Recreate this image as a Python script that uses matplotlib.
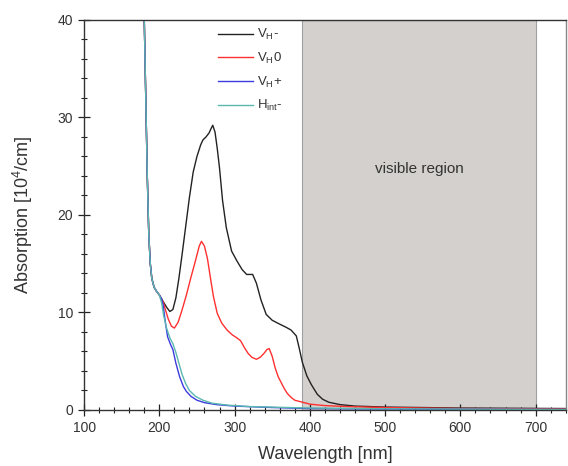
import matplotlib
matplotlib.use("Agg")
import matplotlib.pyplot as plt
from matplotlib.ticker import MultipleLocator

plt.rcParams['font.family'] = ['Liberation Sans', 'DejaVu Sans']
plt.rcParams['mathtext.fontset'] = 'custom'
plt.rcParams['mathtext.rm'] = 'Liberation Sans'
plt.rcParams['mathtext.it'] = 'Liberation Sans:italic'

# ---- data ----
vh_minus_x = [178, 180, 182, 184, 186, 188, 190, 193, 196, 200, 203, 206, 210, 214, 218, 222, 226, 230, 235, 240,
              245, 250, 255, 258, 262, 266, 269, 271, 274, 277, 280, 284, 289, 296, 303, 310, 316, 320, 324, 329,
              335, 342, 350, 360, 368, 375, 382, 386, 390, 396, 402, 410, 417, 425, 440, 460, 500, 600, 740]
vh_minus_y = [45, 40, 32, 24, 18, 15, 13.5, 12.6, 12.2, 11.8, 11.4, 11.0, 10.5, 10.1, 10.3, 11.5, 13.5, 15.8, 18.8, 21.8,
              24.4, 26.0, 27.2, 27.7, 28.0, 28.4, 28.9, 29.2, 28.5, 26.8, 24.8, 21.5, 18.7, 16.3, 15.3, 14.4, 13.9, 13.9, 13.9, 13.0,
              11.3, 9.8, 9.2, 8.8, 8.5, 8.2, 7.6, 6.3, 4.9, 3.5, 2.6, 1.6, 1.1, 0.8, 0.55, 0.4, 0.3, 0.2, 0.15]

vh0_x = [178, 180, 182, 184, 186, 188, 190, 193, 196, 200, 203, 205, 208, 212, 216, 220, 225, 230, 236, 242,
         248, 253, 256, 260, 264, 268, 272, 277, 283, 290, 297, 303, 308, 313, 318, 323, 329, 334, 339, 343,
         346, 350, 354, 358, 362, 366, 370, 375, 380, 390, 400, 420, 450, 500, 600, 740]
vh0_y = [45, 40, 32, 24, 18, 15, 13.5, 12.6, 12.2, 11.8, 11.3, 11.1, 10.3, 9.3, 8.6, 8.4, 9.0, 10.2, 11.8, 13.6,
         15.3, 16.8, 17.3, 16.8, 15.5, 13.5, 11.6, 9.9, 8.9, 8.2, 7.7, 7.4, 7.1, 6.4, 5.8, 5.4, 5.2, 5.4, 5.8, 6.2,
         6.3, 5.5, 4.3, 3.4, 2.8, 2.2, 1.7, 1.3, 1.0, 0.8, 0.6, 0.45, 0.35, 0.25, 0.15, 0.1]

vh_plus_x = [178, 180, 182, 184, 186, 188, 190, 193, 196, 200, 203, 205, 208, 211, 215, 218, 222, 227, 232, 236,
             242, 250, 260, 276, 300, 350, 400, 500, 740]
vh_plus_y = [45, 40, 32, 24, 18, 15, 13.5, 12.6, 12.2, 11.8, 11.4, 10.8, 9.0, 7.5, 6.7, 6.2, 4.8, 3.4, 2.4, 1.9,
             1.4, 1.0, 0.75, 0.55, 0.4, 0.25, 0.15, 0.1, 0.05]

hint_x = [178, 180, 182, 184, 186, 188, 190, 193, 196, 200, 203, 206, 210, 214, 218, 222, 226, 230, 235, 240,
          248, 258, 270, 290, 320, 400, 500, 740]
hint_y = [45, 40, 32, 24, 18, 15, 13.5, 12.6, 12.2, 11.8, 11.0, 9.6, 8.3, 7.4, 6.8, 5.9, 4.8, 3.7, 2.7, 2.0,
          1.4, 1.0, 0.7, 0.5, 0.35, 0.2, 0.12, 0.05]

labels = [r'V$_{\mathrm{H}}$-', r'V$_{\mathrm{H}}$0', r'V$_{\mathrm{H}}$+', r'H$_{\mathrm{int}}$-']
colors = ['#222222', '#ff3030', '#3b3bdd', '#5ab8b0']

visible_start, visible_end = 390, 700

# ---- figure ----
fig = plt.figure(figsize=(5.68, 4.66), dpi=100)
ax = fig.add_axes([0.148, 0.1202, 0.848, 0.837])

ax.axvspan(visible_start, visible_end, facecolor='#d3d0cd', edgecolor='#a0a0a0', lw=0.8, zorder=0)

series = [(vh_minus_x, vh_minus_y), (vh0_x, vh0_y), (vh_plus_x, vh_plus_y), (hint_x, hint_y)]
for (xs, ys), lab, c in zip(series, labels, colors):
    ax.plot(xs, ys, color=c, lw=1.0, label=lab, zorder=2)

ax.set_xlim(100, 740)
ax.set_ylim(0, 40)
ax.xaxis.set_major_locator(MultipleLocator(100))
ax.xaxis.set_minor_locator(MultipleLocator(20))
ax.yaxis.set_major_locator(MultipleLocator(10))
ax.yaxis.set_minor_locator(MultipleLocator(2))
ax.tick_params(which='major', direction='inout', length=8, width=0.9, labelsize=10,
               colors='#222222', labelcolor='#333333', pad=4)
ax.tick_params(which='minor', direction='inout', length=4.5, width=0.8, colors='#222222')
ax.tick_params(top=False, right=False, which='both')
for s in ax.spines.values():
    s.set_linewidth(1.0)
    s.set_color('#333333')
ax.spines['right'].set_color('#888888')

ax.set_xlabel('Wavelength [nm]', fontsize=13, color='#333333', labelpad=8)
ax.set_ylabel('Absorption [10$^4$/cm]', fontsize=13, color='#333333', labelpad=16)

ax.text(545, 24.7, 'visible region', fontsize=11, color='#333333', ha='center', va='center')

leg = ax.legend(loc='upper left', bbox_to_anchor=(0.262, 1.0), frameon=False, fontsize=9.5,
                handlelength=2.7, labelspacing=0.65, handletextpad=0.3, borderaxespad=0.15)
for t in leg.get_texts():
    t.set_color('#333333')

fig.savefig('out.png', dpi=100)
